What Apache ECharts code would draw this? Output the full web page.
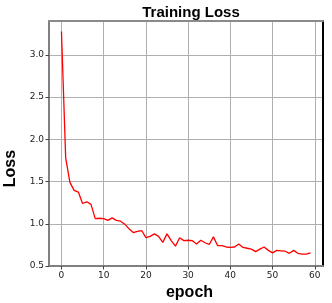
<!DOCTYPE html>
<html><head><meta charset="utf-8">
<script src="https://cdn.jsdelivr.net/npm/echarts@6/dist/echarts.min.js"></script>
<style>html,body{margin:0;padding:0;background:#fff}#c{width:332px;height:303px}</style>
</head><body><div id="c"></div>
<script>
var epochs = [];
for (var i = 0; i < 60; i++) epochs.push(i);
var loss = [3.275,1.78,1.49,1.395,1.375,1.24,1.26,1.23,1.06,1.065,
            1.06,1.04,1.07,1.04,1.03,0.995,0.94,0.896,0.91,0.92,
            0.835,0.85,0.88,0.85,0.78,0.88,0.80,0.735,0.835,0.80,
            0.805,0.80,0.76,0.805,0.775,0.755,0.845,0.74,0.74,0.725,
            0.72,0.725,0.76,0.72,0.71,0.70,0.67,0.70,0.725,0.685,
            0.655,0.685,0.68,0.675,0.65,0.685,0.65,0.64,0.64,0.655];
var xTicks = [0,10,20,30,40,50,60];
var yTicks = [0.5,1.0,1.5,2.0,2.5,3.0];

var data = epochs.map(function(e, i){ return [e, loss[i]]; });
var chart = echarts.init(document.getElementById('c'), null, {renderer:'canvas'});
var tickFont = {fontFamily:'DejaVu Sans', fontSize:9, color:'#222'};
chart.setOption({
  animation:false,
  title:{text:'Training Loss', left:186, top:0, textAlign:'center',
    textStyle:{fontFamily:'Liberation Sans', fontWeight:'bold', fontSize:15, color:'#000'}},
  grid:{left:49, right:9, top:21, bottom:37, containLabel:false, outerBoundsMode:'none'},
  xAxis:[{type:'value', min:-2.95, max:61.95, splitNumber:6,
    name:'epoch', nameLocation:'middle', nameGap:17,
    nameTextStyle:{fontFamily:'Liberation Sans', fontWeight:'bold', fontSize:16, color:'#000', padding:[0,0,0,7]},
    axisLine:{show:true, onZero:false, lineStyle:{color:'#808080', width:2}},
    axisTick:{show:true, customValues:xTicks, length:3.5, lineStyle:{color:'#444', width:1}},
    axisLabel:{customValues:xTicks, margin:5, fontFamily:tickFont.fontFamily, fontSize:tickFont.fontSize, color:tickFont.color,
      formatter:function(v){ return (Math.abs(v % 10) < 1e-6) ? String(v) : ''; }},
    splitLine:{show:true, lineStyle:{color:'#b0b0b0', width:1}}},
   {type:'value', position:'top', min:-2.95, max:61.95,
    axisLine:{show:true, onZero:false, lineStyle:{color:'#8a8a8a', width:2}},
    axisTick:{show:false}, axisLabel:{show:false}, splitLine:{show:false}}],
  yAxis:[{type:'value', min:0.5, max:3.4, interval:0.5,
    name:'Loss', nameLocation:'middle', nameGap:29, nameRotate:90,
    nameTextStyle:{fontFamily:'Liberation Sans', fontWeight:'bold', fontSize:16, color:'#000', padding:[0,50,0,0]},
    axisLine:{show:true, onZero:false, lineStyle:{color:'#808080', width:2}},
    axisTick:{show:true, customValues:yTicks, length:3.5, lineStyle:{color:'#444', width:1}},
    axisLabel:{customValues:yTicks, margin:5, fontFamily:tickFont.fontFamily, fontSize:tickFont.fontSize, color:tickFont.color,
      formatter:function(v){ return v.toFixed(1); }},
    splitLine:{show:true, lineStyle:{color:'#b0b0b0', width:1}}},
   {type:'value', position:'right', min:0.5, max:3.4,
    axisLine:{show:true, onZero:false, lineStyle:{color:'#000', width:2}},
    axisTick:{show:false}, axisLabel:{show:false}, splitLine:{show:false}}],
  series:[{type:'line', data:data, xAxisIndex:0, yAxisIndex:0, showSymbol:false,
    lineStyle:{color:'#ff0000', width:1.3}, itemStyle:{color:'#ff0000'}}]
});
</script></body></html>
